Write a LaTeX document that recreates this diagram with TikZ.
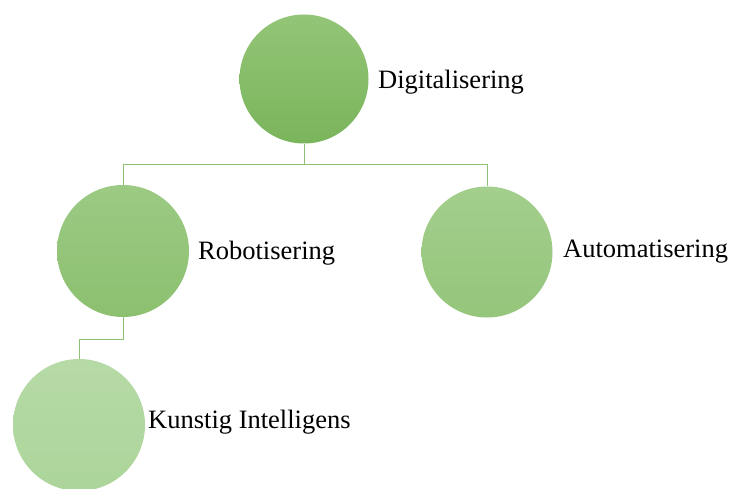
\documentclass[tikz,border=0pt]{standalone}
\usepackage{fontspec}
\setmainfont{Liberation Serif}
\begin{document}
\begin{tikzpicture}[x=1pt,y=-1pt,
  bub/.style={circle,minimum size=#1,inner sep=0pt,shading=axis,shading angle=0},
  lab/.style={anchor=base west,inner sep=0pt,font=\fontsize{26.5}{30}\selectfont},
  conn/.style={draw=lineg,line width=1pt}]
\definecolor{lineg}{HTML}{8FC272}
\definecolor{c1t}{HTML}{93C577}\definecolor{c1b}{HTML}{7AB45B}
\definecolor{c2t}{HTML}{9CCA84}\definecolor{c2b}{HTML}{8CC06F}
\definecolor{c3t}{HTML}{A3CE8D}\definecolor{c3b}{HTML}{95C67B}
\definecolor{c4t}{HTML}{B6DAA6}\definecolor{c4b}{HTML}{ACD59A}
\useasboundingbox (0,0) rectangle (731,489);
\node[bub=129pt,top color=c1t,bottom color=c1b] (dig) at (304,79) {};
\node[bub=132pt,top color=c2t,bottom color=c2b] (rob) at (123,251) {};
\node[bub=131pt,top color=c3t,bottom color=c3b] (aut) at (487,252) {};
\node[bub=132pt,top color=c4t,bottom color=c4b] (kun) at (79,425) {};
\coordinate (j1) at (304,165);
\coordinate (j2) at (123,339);
\draw[conn] (dig.south) -- (j1) -| (rob.north);
\draw[conn] (j1) -| (aut.north);
\draw[conn] (rob.south) -- (j2) -| (kun.north);
\node[lab] (tdig) at (378,89) {Digitalisering};
\node[lab] (trob) at (198,260) {Robotisering};
\node[lab] (taut) at (563,258) {Automatisering};
\node[lab] (tkun) at (148,428) {Kunstig Intelligens};
\end{tikzpicture}
\end{document}
